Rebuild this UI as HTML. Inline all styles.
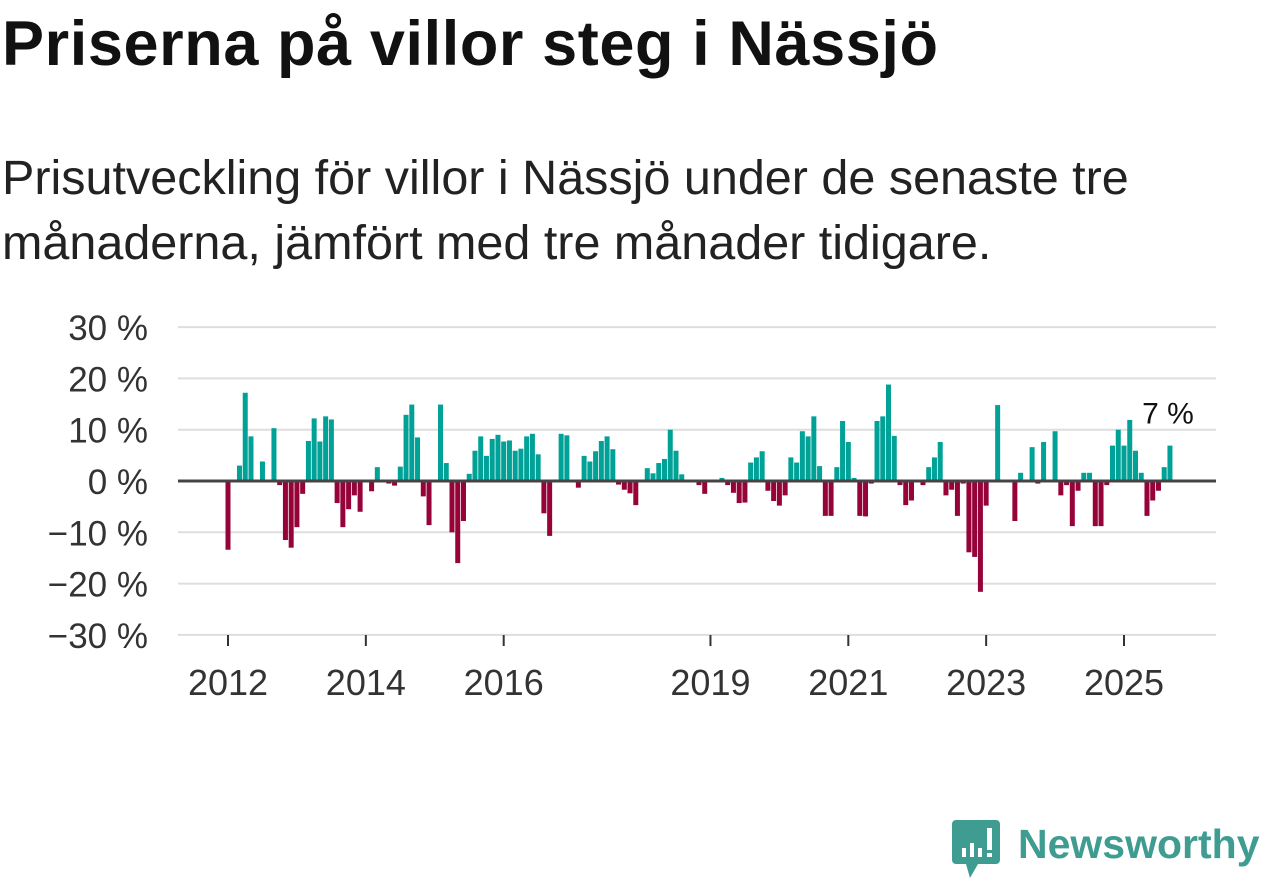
<!DOCTYPE html>
<html><head><meta charset="utf-8">
<style>
html,body{margin:0;padding:0;background:#fff;}
body{width:1262px;height:879px;position:relative;overflow:hidden;font-family:"Liberation Sans",sans-serif;color:#111;}
#title{position:absolute;left:2px;top:13px;font-size:63px;line-height:63px;font-weight:bold;margin:0;letter-spacing:0.6px;white-space:nowrap;}
#subtitle{position:absolute;left:2px;top:146px;font-size:48.5px;line-height:65px;margin:0;width:1260px;color:#222;white-space:nowrap;}
svg{position:absolute;left:0;top:0;}
</style></head>
<body>
<h1 id="title">Priserna på villor steg i Nässjö</h1>
<p id="subtitle">Prisutveckling för villor i Nässjö under de senaste tre<br>månaderna, jämfört med tre månader tidigare.</p>
<svg id="chart" width="1262" height="879"></svg>
<script>
const values = [
-13.4,0,3,17.2,8.7,0,3.8,0,10.3,-0.8,-11.5,-13,-9,-2.5,7.8,12.2,7.7,12.6,12,-4.3,
-9,-5.5,-2.8,-6,0,-2,2.7,0,-0.5,-0.9,2.8,12.9,14.9,8.5,-3,-8.6,0,14.9,3.5,-10,
-16,-7.8,1.4,5.9,8.7,4.9,8.2,9,7.7,7.9,5.9,6.3,8.7,9.2,5.2,-6.3,-10.7,0.3,9.2,8.9,
0,-1.3,4.9,3.8,5.8,7.8,8.7,6.2,-0.7,-1.7,-2.4,-4.7,0,2.5,1.5,3.5,4.3,10,5.9,1.3,
0,0,-0.8,-2.5,0,0,0.6,-0.8,-2.3,-4.3,-4.2,3.6,4.6,5.8,-1.9,-3.9,-4.8,-2.8,4.6,3.6,
9.7,8.7,12.6,2.9,-6.8,-6.8,2.7,11.7,7.6,0.6,-6.8,-6.9,-0.5,11.7,12.6,18.8,8.8,-0.8,-4.7,-3.8,
0,-0.8,2.7,4.6,7.6,-2.8,-1.7,-6.8,-0.5,-13.9,-14.8,-21.6,-4.8,0,14.8,0,0,-7.8,1.6,0,
6.6,-0.5,7.6,0,9.7,-2.8,-0.8,-8.8,-1.9,1.6,1.6,-8.8,-8.8,-0.8,6.9,10,6.9,11.9,5.9,1.6,
-6.8,-3.8,-1.9,2.7,6.9
];
const yTicks = [30,20,10,0,-10,-20,-30];
const yTickLabels = ["30 %","20 %","10 %","0 %","\u221210 %","\u221220 %","\u221230 %"];
const xTickYears = [2012,2014,2016,2019,2021,2023,2025];
const startYear = 2012;
const lastLabel = "7 %";

const svg = document.getElementById('chart');
const NS = 'http://www.w3.org/2000/svg';
const plotL = 178, plotR = 1216;
const y0px = 481, pxPerPct = 5.13;
function yScale(v){ return y0px - v * pxPerPct; }
function xScale(monthIdx){ return 228 + monthIdx * (896/156); }
function mk(tag, attrs){ const e = document.createElementNS(NS, tag); for (const k in attrs) e.setAttribute(k, attrs[k]); svg.appendChild(e); return e; }

yTicks.forEach((t, i) => {
  if (t !== 0) {
    const g = mk('line', {x1:plotL, x2:plotR, y1:yScale(t), y2:yScale(t), stroke:'#dedede', 'stroke-width':2});
    
    
  }
  const tx = mk('text', {x:148, y:yScale(t)+13, 'text-anchor':'end', 'font-size':35, fill:'#333', 'font-family':'Liberation Sans, sans-serif'});
  tx.textContent = yTickLabels[i];
  
  
});

const bw = 5;
values.forEach((v, i) => {
  if (v === 0) return;
  const x = xScale(i) - bw/2;
  const top = Math.min(yScale(v), y0px), h = Math.abs(yScale(v) - y0px);
  const r = mk('rect', {x:x, y:top, width:bw, height:h, fill: v > 0 ? '#00a196' : '#950338'});
  
  
});

const zl = mk('line', {x1:plotL, x2:plotR, y1:y0px, y2:y0px, stroke:'#444', 'stroke-width':3});



xTickYears.forEach(yr => {
  const x = xScale((yr - startYear) * 12);
  const tk = mk('line', {x1:x, x2:x, y1:635, y2:646, stroke:'#333', 'stroke-width':2});
  
  
  const tx = mk('text', {x:x, y:695, 'text-anchor':'middle', 'font-size':36, fill:'#333', 'font-family':'Liberation Sans, sans-serif'});
  tx.textContent = yr;
  
  
});

const lastIdx = values.length - 1;
const lbl = mk('text', {x:xScale(lastIdx) - 2, y:yScale(values[lastIdx]) - 22, 'text-anchor':'middle', 'font-size':30, fill:'#111', stroke:'#fff', 'stroke-width':5, 'paint-order':'stroke', 'font-family':'Liberation Sans, sans-serif'});
lbl.textContent = lastLabel;


</script>
<svg width="1262" height="879" style="position:absolute;left:0;top:0;pointer-events:none">
  <path d="M956 820 h40 a4 4 0 0 1 4 4 v36 a4 4 0 0 1 -4 4 h-18 l-8 14 l-4 -14 h-10 a4 4 0 0 1 -4 -4 v-36 a4 4 0 0 1 4 -4z" fill="#3e9c91"/>
  <rect x="962" y="848" width="4" height="9" fill="#fff"/>
  <rect x="970" y="843" width="4" height="14" fill="#fff"/>
  <rect x="978" y="848" width="4" height="9" fill="#fff"/>
  <rect x="987" y="828" width="5" height="22" fill="#fff"/>
  <rect x="987" y="853" width="5" height="4" fill="#fff"/>
  <text x="1018" y="858" font-size="41" font-weight="bold" fill="#3e9c91" font-family="Liberation Sans, sans-serif">Newsworthy</text>
</svg>
</body></html>
